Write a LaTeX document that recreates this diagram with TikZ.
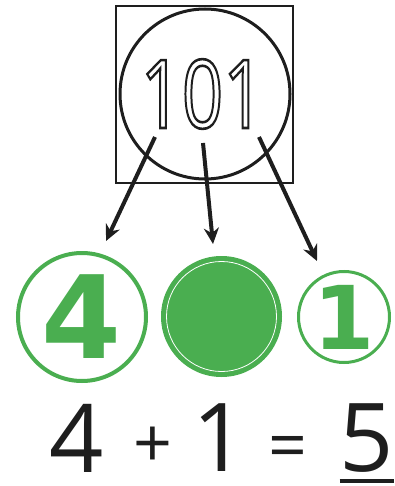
\documentclass[tikz,border=0pt]{standalone}
\usepackage{fontspec}
\usepackage{graphicx}
\usetikzlibrary{arrows.meta}
\setmainfont{Open Sans}
\newfontfamily\gruesa{DejaVu Sans Bold}
\definecolor{verde}{RGB}{74,174,80}
\definecolor{tinta}{RGB}{30,30,30}
\newcommand{\hueco}[1]{\special{pdf:literal direct 1 Tr 2.6 w}#1\special{pdf:literal direct 0 Tr}}
\tikzset{
  aro/.style={circle, draw=verde, inner sep=0pt, text=verde},
  flecha/.style={->, line width=4pt, tinta},
  suma/.style={inner sep=0pt, text=tinta}
}
\begin{document}
\begin{tikzpicture}[x=1pt, y=-1pt, >={Stealth[length=16pt,width=15pt]}]
  % Marco de la figura
  \useasboundingbox (0,0) rectangle (394,486);

  % Cuadro y circulo con el numero
  \draw[line width=2pt, tinta] (116,6) rectangle (293,183);
  \node[circle, draw=tinta, line width=3pt, minimum size=170, inner sep=0pt]
    (marco) at (205,94) {};
  \node[inner sep=0pt, text=tinta] (cien) at (202.5,94)
    {\scalebox{0.76}[1]{\fontsize{95}{95}\selectfont\hueco{101}}};

  % Puntos de salida y llegada de las flechas
  \coordinate (s1) at (155,137);
  \coordinate (s2) at (203,143);
  \coordinate (s3) at (259,137);
  \coordinate (t1) at (106,241);
  \coordinate (t2) at (213,244);
  \coordinate (t3) at (317,261);
  \draw[flecha] (s1) -- (t1);
  \draw[flecha] (s2) -- (t2);
  \draw[flecha] (s3) -- (t3);

  % Circulos verdes
  \node[aro, line width=4pt, minimum size=128] (cuatro) at (82,317)
    {\fontsize{115}{115}\gruesa 4};
  \node[circle, fill=verde, minimum size=121, inner sep=0pt]
    (lleno) at (221.5,316.5) {};
  \draw[white, line width=0.8pt] (lleno.center) circle (55);
  \node[aro, line width=3pt, minimum size=91] (uno) at (344,317)
    {\fontsize{88}{88}\gruesa 1};

  % Suma
  \node[suma] (n4) at (77,438) {\fontsize{95}{95}\selectfont 4};
  \node[suma] (mas) at (153,447) {\fontsize{68}{68}\selectfont +};
  \node[suma] (n1) at (220,438) {\fontsize{95}{95}\selectfont 1};
  \node[suma] (igual) at (288,452.5) {\fontsize{68}{68}\selectfont =};
  \node[suma] (n5) at (367,438) {\fontsize{95}{95}\selectfont 5};
  \draw[line width=3.5pt, tinta] (n5.south west |- 0,481) -- (n5.south east |- 0,481);
\end{tikzpicture}
\end{document}
